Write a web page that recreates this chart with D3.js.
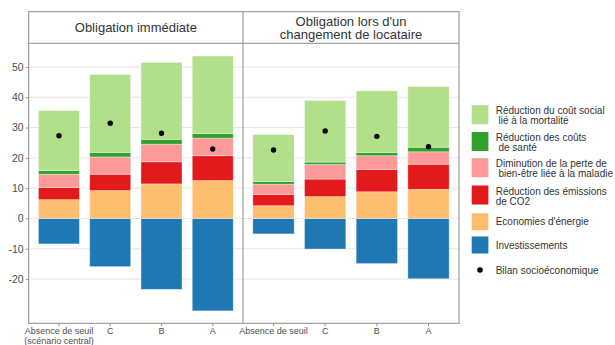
<!DOCTYPE html>
<html><head><meta charset="utf-8">
<script src="https://cdn.jsdelivr.net/npm/d3@7"></script>
<style>
html,body{margin:0;padding:0;background:#fff;}
svg{display:block;font-family:"Liberation Sans",Arial,sans-serif;}
</style></head>
<body><svg id="c" width="615" height="345"></svg>
<script>
// ---- data ----
const categories = ["Absence de seuil", "C", "B", "A"];
const panelTitles = [["Obligation immédiate"], ["Obligation lors d'un", "changement de locataire"]];
const tickLabelsLeft = [["Absence de seuil", "(scénario central)"], ["C"], ["B"], ["A"]];
const tickLabelsRight = [["Absence de seuil"], ["C"], ["B"], ["A"]];
const seriesKeys = ["investissements", "energie", "co2", "maladie", "sante", "mortalite"];
// Panel 1 : Obligation immédiate
const investissements1 = [-8.4, -15.9, -23.4, -30.5];
const energie1 = [6.2, 9.2, 11.4, 12.5];
const co2_1 = [4.0, 5.4, 7.3, 8.2];
const maladie1 = [4.4, 5.7, 5.8, 5.8];
const sante1 = [1.2, 1.5, 1.6, 1.5];
const mortalite1 = [19.8, 25.7, 25.4, 25.6];
const bilan1 = [27.3, 31.4, 28.1, 22.9];
// Panel 2 : Obligation lors d'un changement de locataire
const investissements2 = [-5.1, -10.1, -14.9, -19.9];
const energie2 = [4.2, 7.2, 8.8, 9.6];
const co2_2 = [3.7, 5.8, 7.4, 8.3];
const maladie2 = [3.4, 4.8, 4.5, 4.1];
const sante2 = [0.9, 0.8, 1.1, 1.5];
const mortalite2 = [15.5, 20.3, 20.3, 20.0];
const bilan2 = [22.6, 28.9, 27.1, 23.7];
const yTicks = [-20, -10, 0, 10, 20, 30, 40, 50];
const legendLabels = [
  ["Réduction du coût social", " lié à la mortalité"],
  ["Réduction des coûts", " de santé"],
  ["Diminution de la perte de", " bien-être liée à la maladie"],
  ["Réduction des émissions", "de CO2"],
  ["Economies d'énergie"],
  ["Investissements"],
  ["Bilan socioéconomique"]
];
const legendKeys = ["mortalite", "sante", "maladie", "co2", "energie", "investissements", "bilan"];

// ---- styles / layout ----
const colors = {
  mortalite: "#b2df8a", sante: "#33a02c", maladie: "#fb9a99",
  co2: "#e31a1c", energie: "#fdbf6f", investissements: "#1f78b4"
};
const frame = {left: 28.7, top: 11.7, right: 459, bottom: 323.3, header: 43.3, divider: 243};
const svg = d3.select("#c");

function rows(inv, en, co, mal, san, mor) {
  return categories.map((c, i) => ({cat: c, investissements: inv[i], energie: en[i], co2: co[i], maladie: mal[i], sante: san[i], mortalite: mor[i]}));
}
const panels = [
  {x0: frame.left, x1: frame.divider, data: rows(investissements1, energie1, co2_1, maladie1, sante1, mortalite1), bilan: bilan1, titles: panelTitles[0], ticks: tickLabelsLeft},
  {x0: frame.divider, x1: frame.right, data: rows(investissements2, energie2, co2_2, maladie2, sante2, mortalite2), bilan: bilan2, titles: panelTitles[1], ticks: tickLabelsRight}
];

const y = d3.scaleLinear().domain([-34.6, 57.8]).range([frame.bottom, frame.header]);
const stack = d3.stack().keys(seriesKeys).offset(d3.stackOffsetDiverging);

// gridlines
panels.forEach(p => {
  svg.append("g").selectAll("line").data(yTicks).join("line")
    .attr("x1", p.x0).attr("x2", p.x1)
    .attr("y1", d => y(d)).attr("y2", d => y(d))
    .attr("stroke", "#e6e6e6").attr("stroke-width", 1);
});

panels.forEach(p => {
  const x = d3.scaleBand().domain(categories).range([p.x0, p.x1]).paddingInner(0.2).paddingOuter(0.19);
  const stacked = stack(p.data);
  const g = svg.append("g");
  g.selectAll("g").data(stacked).join("g")
    .attr("fill", s => colors[s.key])
    .selectAll("rect").data(s => s).join("rect")
    .attr("x", d => x(d.data.cat)).attr("width", x.bandwidth())
    .attr("y", d => y(Math.max(d[0], d[1])))
    .attr("height", d => Math.abs(y(d[0]) - y(d[1])))
    .attr("stroke", "rgba(255,255,255,0.45)").attr("stroke-width", 0.8);
  g.selectAll("circle").data(p.bilan).join("circle")
    .attr("cx", (d, i) => x(categories[i]) + x.bandwidth() / 2)
    .attr("cy", d => y(d)).attr("r", 2.7).attr("fill", "#000");
  // x axis
  const ax = svg.append("g").attr("transform", `translate(0,${frame.bottom})`)
    .call(d3.axisBottom(x).tickSize(3).tickFormat(""));
  ax.select(".domain").remove();
  ax.selectAll(".tick line").attr("stroke", "#999");
  const lab = svg.append("g").attr("font-size", 9).attr("fill", "#4d4d4d").attr("text-anchor", "middle");
  categories.forEach((c, i) => {
    p.ticks[i].forEach((t, j) => {
      lab.append("text").attr("x", x(c) + x.bandwidth() / 2).attr("y", frame.bottom + 11 + j * 10).text(t);
    });
  });
  // header titles
  const cx = (p.x0 + p.x1) / 2;
  const n = p.titles.length;
  p.titles.forEach((t, j) => {
    svg.append("text").attr("x", cx)
      .attr("y", (n === 1 ? 32 : 25.8) + j * 13.6)
      .attr("text-anchor", "middle").attr("font-size", 13).attr("fill", "#333").text(t);
  });
});

// y axis
const ay = svg.append("g").attr("transform", `translate(${frame.left},0)`)
  .call(d3.axisLeft(y).tickValues(yTicks).tickSize(3).tickPadding(2).tickFormat(d3.format("d")));
ay.select(".domain").remove();
ay.selectAll(".tick line").attr("stroke", "#999");
ay.selectAll(".tick text").attr("font-size", 10.5).attr("fill", "#4d4d4d")
  .attr("font-family", "Liberation Sans, Arial, sans-serif").text(d => String(d).replace("\u2212", "-"));

// frame
const fr = svg.append("g").attr("fill", "none").attr("stroke", "#8c8c8c").attr("stroke-width", 1);
fr.append("rect").attr("x", frame.left).attr("y", frame.top)
  .attr("width", frame.right - frame.left).attr("height", frame.bottom - frame.top);
fr.append("line").attr("x1", frame.left).attr("x2", frame.right).attr("y1", frame.header).attr("y2", frame.header);
fr.append("line").attr("x1", frame.divider).attr("x2", frame.divider).attr("y1", frame.top).attr("y2", frame.bottom);

// legend
const legendCenters = [114.7, 141.5, 167.7, 195, 221.7, 245, 270];
const lg = svg.append("g").attr("font-size", 10).attr("fill", "#333");
legendKeys.forEach((k, i) => {
  const cy = legendCenters[i];
  if (k === "bilan") {
    lg.append("circle").attr("cx", 480).attr("cy", cy).attr("r", 2.8).attr("fill", "#000");
  } else {
    const h = legendLabels[i].length > 1 ? 19 : 17;
    lg.append("rect").attr("x", 471.7).attr("y", cy - h / 2).attr("width", 16.7).attr("height", h).attr("fill", colors[k]);
  }
  const lines = legendLabels[i];
  lines.forEach((t, j) => {
    const base = lines.length > 1 ? cy - 0.5 + j * 10 : cy + 3.5;
    lg.append("text").attr("x", 495.7).attr("y", base).attr("xml:space", "preserve")
      .style("white-space", "pre").text(t);
  });
});
</script></body></html>
